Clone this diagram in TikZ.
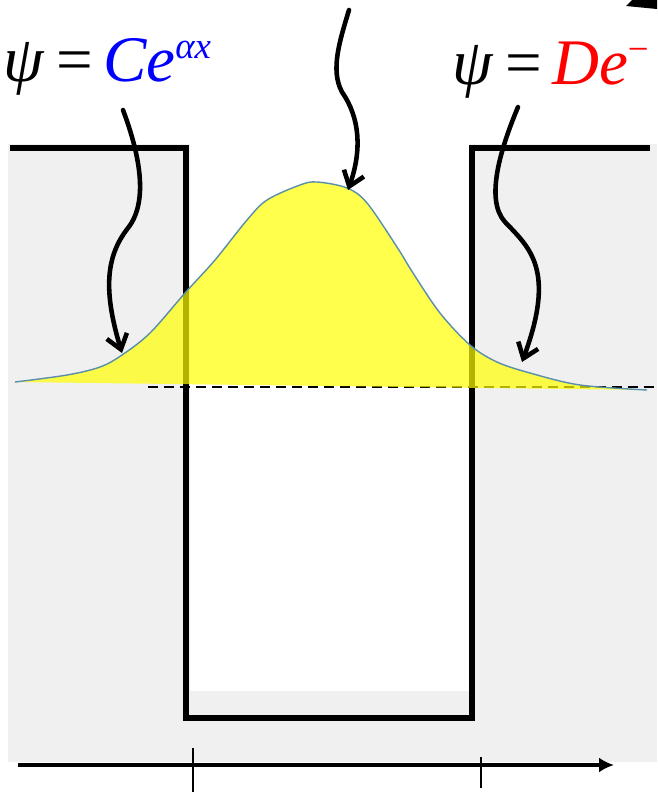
\documentclass[tikz,border=0pt]{standalone}
\usepackage{fontspec}
\setmainfont{Liberation Serif}
\usetikzlibrary{arrows.meta,positioning}
\definecolor{well-gray}{HTML}{F0F0F0}
\definecolor{psi-line}{HTML}{5A8FAA}
\definecolor{psi-fill}{HTML}{FFFF00}
\newcommand{\expsup}[1]{\raisebox{13pt}{\fontsize{21}{24}\selectfont #1}}

\begin{document}
\begin{tikzpicture}[
    x=0.02cm, y=-0.02cm,
    % wall and pointer styles
    wall/.style={line width=3.4pt, line join=miter},
    pointer/.style={line width=2.6pt, line cap=round, -{Straight Barb[length=8pt,width=12pt]}},
    eqstyle/.style={font=\fontsize{37}{44}\selectfont, inner sep=0pt, anchor=base west}
  ]
  \clip (0,0) rectangle (657,792);

  % =========================================================================
  % BACKGROUND AND WELL
  % =========================================================================
  \fill[well-gray] (8,144) rectangle (657,762);
  \fill[white] (190,140) rectangle (470,691);
  \draw[line width=0.85pt, dash pattern=on 5.7pt off 3.4pt] (148,387) -- (657,387);
  \draw[wall] (10,148) -- (186,148) -- (186,718) -- (472,718) -- (472,148) -- (650,148);

  % =========================================================================
  % WAVE FUNCTION
  % =========================================================================
  \fill[psi-fill, fill opacity=0.7] plot[smooth, tension=0.55] coordinates {
    (15,382) (67,375) (100,367) (122,355) (150,333) (185,293) (215,260) (247,220)
    (267,200) (300,185) (317,182) (347,188) (367,203) (397,247) (413,273)
    (440,313) (470,345) (497,362) (530,373) (580,385) (647,390)} -- cycle;
  \draw[psi-line, line width=0.8pt] plot[smooth, tension=0.55] coordinates {
    (15,382) (67,375) (100,367) (122,355) (150,333) (185,293) (215,260) (247,220)
    (267,200) (300,185) (317,182) (347,188) (367,203) (397,247) (413,273)
    (440,313) (470,345) (497,362) (530,373) (580,385) (647,390)};

  % =========================================================================
  % LABELS AND POINTERS
  % =========================================================================
  \node[eqstyle] (psiL) at (3,81) {\itshape ψ\hspace{0.2em}\upshape=\hspace{0.15em}\color{blue}\itshape Ce\expsup{αx}};
  \node[eqstyle] (psiR) at (452,84) {\itshape ψ\hspace{0.2em}\upshape=\hspace{0.15em}\color{red}\itshape De\expsup{\upshape −}};

  \coordinate (srcL) at (123,110);
  \coordinate (tipL) at (122,353);
  \coordinate (srcM) at (349,10);
  \coordinate (tipM) at (348,190);
  \coordinate (srcR) at (518,107);
  \coordinate (tipR) at (522,362);

  \draw[pointer] (srcL) .. controls (138,150) and (150,200) .. (128,228)
                        .. controls (106,256) and (103,290) .. (tipL);
  \draw[pointer] (srcM) .. controls (340,40) and (330,70) .. (342,92)
                        .. controls (360,118) and (362,150) .. (tipM);
  \draw[pointer] (srcR) .. controls (500,150) and (485,200) .. (505,222)
                        .. controls (530,248) and (556,270) .. (tipR);

  % corner mark
  \fill (626,6) -- (632,0) -- (657,0) -- (657,9) -- cycle;

  % =========================================================================
  % AXIS
  % =========================================================================
  \coordinate (axStart) at (18,765);
  \coordinate (axEnd) at (614,765);
  \draw[line width=2.2pt, -{Latex[length=8.5pt,width=8.5pt]}] (axStart) -- (axEnd);
  \draw[line width=1.1pt] (193,748) -- (193,792);
  \draw[line width=1.1pt] (481,757) -- (481,788);

\end{tikzpicture}
\end{document}
